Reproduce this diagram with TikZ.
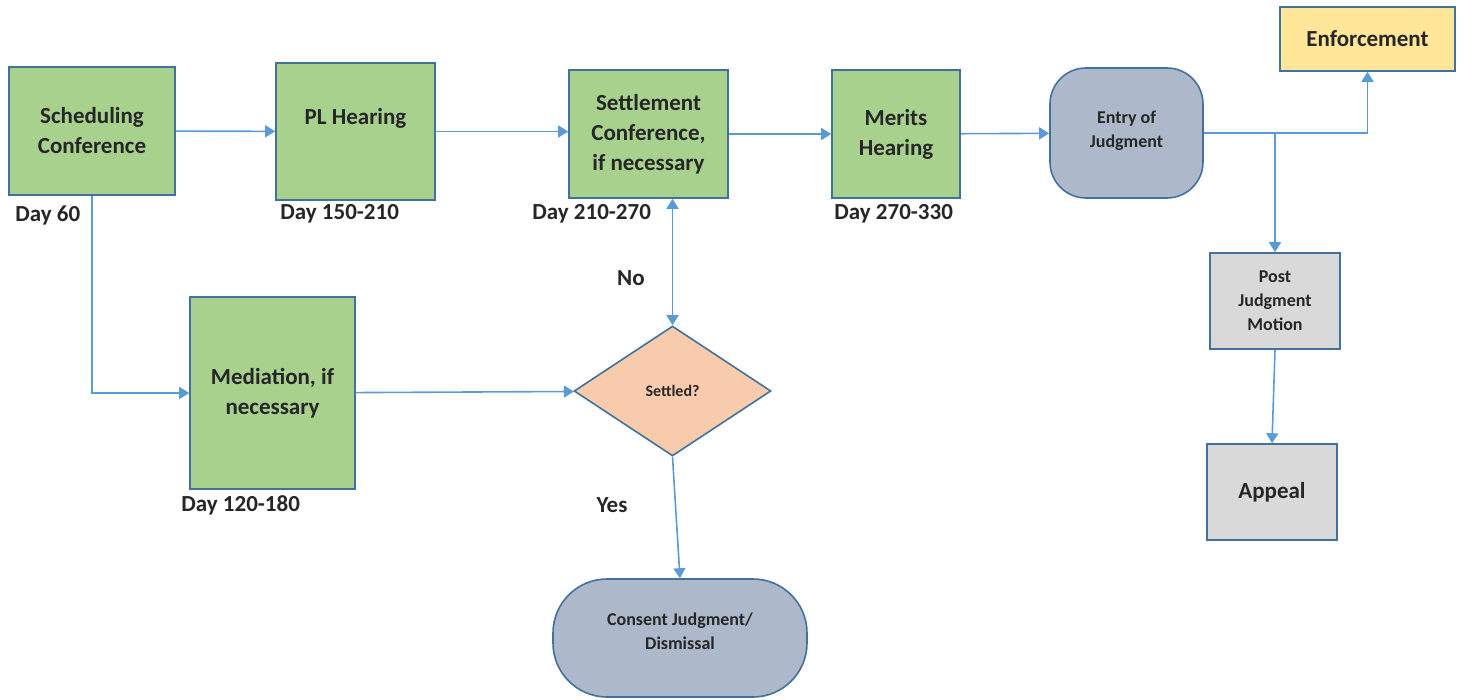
\documentclass[tikz,border=0pt]{standalone}
\usepackage{fontspec}
\setmainfont{Carlito}
\usetikzlibrary{shapes.geometric,arrows.meta}

\definecolor{boxgreen}{HTML}{A9D18E}
\definecolor{boxline}{HTML}{41719C}
\definecolor{boxslate}{HTML}{ADB9CA}
\definecolor{boxpeach}{HTML}{F8CBAD}
\definecolor{boxyellow}{HTML}{FFE699}
\definecolor{boxgray}{HTML}{D9D9D9}
\definecolor{arrowblue}{HTML}{5B9BD5}

\tikzset{
    base/.style={draw=boxline, line width=0.8pt, align=center, inner sep=2pt,
        font=\bfseries\fontsize{11.5}{15}\selectfont, text=black!85},
    greenbox/.style={base, fill=boxgreen},
    judgebox/.style={base, fill=boxslate, rounded corners=18pt,
        font=\bfseries\fontsize{9}{12}\selectfont},
    graybox/.style={base, fill=boxgray},
    daylabel/.style={anchor=west, inner sep=0pt, font=\bfseries\fontsize{11.5}{14}\selectfont, text=black!85},
    arr/.style={draw=arrowblue, line width=0.8pt, -{Triangle[width=6pt,length=5pt]}},
    dblarr/.style={draw=arrowblue, line width=0.8pt, {Triangle[width=6pt,length=5pt]}-{Triangle[width=6pt,length=5pt]}}
}

\begin{document}
\begin{tikzpicture}[x=0.5pt,y=-0.5pt]
    \useasboundingbox (0,0) rectangle (1463,700);

    % Top row of hearings
    \node[greenbox, minimum width=83pt, minimum height=64pt] (sched) at (92,131) {Scheduling\\Conference};
    \node[greenbox, minimum width=79.5pt, minimum height=68.5pt] (plhear) at (355.5,131.5) {PL Hearing\\\mbox{}};
    \node[greenbox, minimum width=79.5pt, minimum height=64pt] (settle) at (648.5,134) {Settlement\\Conference,\\if necessary};
    \node[greenbox, minimum width=64pt, minimum height=64pt] (merits) at (896,134) {Merits\\Hearing};
    \node[judgebox, minimum width=76.5pt, minimum height=65pt] (entry) at (1126.5,133) {\mbox{}\\[-8pt]Entry of\\Judgment};

    % After judgment
    \node[base, fill=boxyellow, minimum width=87.5pt, minimum height=32pt] (enforce) at (1367.5,39) {Enforcement};
    \node[graybox, minimum width=65pt, minimum height=48pt, font=\bfseries\fontsize{9}{12}\selectfont] (postjm) at (1275,301) {Post\\Judgment\\Motion};
    \node[graybox, minimum width=65pt, minimum height=48pt] (appeal) at (1272,492) {Appeal};

    % Lower branch
    \node[greenbox, minimum width=82.5pt, minimum height=96pt] (mediate) at (272.5,393) {Mediation, if\\necessary};
    \node[diamond, base, fill=boxpeach, minimum width=98.5pt, minimum height=65pt, inner sep=0pt,
        font=\bfseries\fontsize{8}{10}\selectfont] (settled) at (672.5,391) {Settled?};
    \node[judgebox, rounded corners=27pt, minimum width=127pt, minimum height=59pt] (consent) at (680,638) {Consent Judgment/\\Dismissal\\[-5pt]\mbox{}};

    % Day labels
    \node[daylabel] (d60) at (15,215) {Day 60};
    \node[daylabel] (d150) at (280,214) {Day 150-210};
    \node[daylabel] (d210) at (532,214) {Day 210-270};
    \node[daylabel] (d270) at (834,214) {Day 270-330};
    \node[daylabel] (d120) at (181,505) {Day 120-180};
    \node[daylabel, anchor=center] (nolbl) at (631,278) {No};
    \node[daylabel, anchor=center] (yeslbl) at (612,505) {Yes};

    % Connectors
    \draw[arr] (sched) -- (plhear);
    \draw[arr] (plhear) -- (plhear -| settle.west);
    \draw[arr] (settle) -- (merits);
    \draw[arr] (merits) -- (entry);
    \draw[arr] (sched.south) |- (mediate.west);
    \draw[arr] (mediate) -- (settled);
    \draw[dblarr] (settled.north |- settle.south) -- (settled.north);
    \draw[arr] (settled.south) -- (consent.north);
    \draw[arr] (entry.east) -| (enforce.south);
    \draw[arr] (entry.east -| postjm.north) -- (postjm.north);
    \draw[arr] (postjm.south) -- (appeal.north);
\end{tikzpicture}
\end{document}
